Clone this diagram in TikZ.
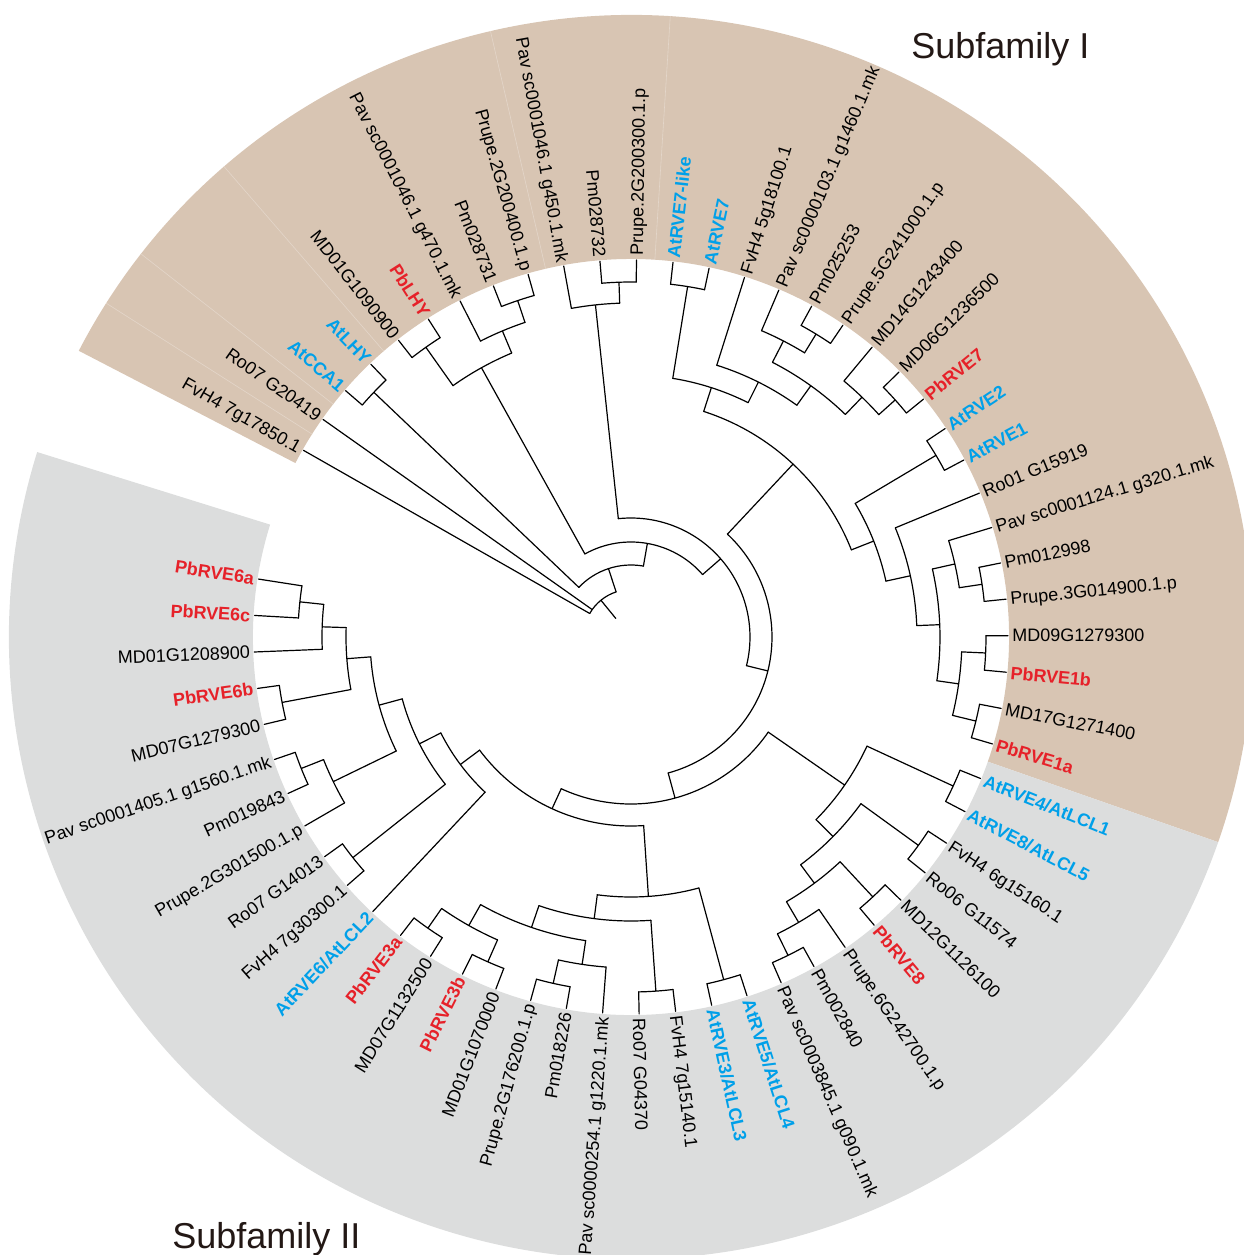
\documentclass[tikz,border=0pt]{standalone}
\usepackage{fontspec}
\setmainfont{Liberation Sans}
\definecolor{famI}{RGB}{216,197,179}
\definecolor{famII}{RGB}{220,221,221}
\definecolor{pbred}{RGB}{230,33,41}
\definecolor{atblue}{RGB}{0,160,233}
\definecolor{famtext}{RGB}{35,24,21}
\tikzset{
  branch/.style={line width=0.6pt, black},
  seam/.style={line width=0.3pt, famI!70!white},
  gene/.style={font=\fontsize{9}{10}\selectfont, inner sep=1pt, text depth=0pt},
  pbgene/.style={gene, font=\fontsize{9}{10}\selectfont\bfseries, text=pbred},
  atgene/.style={gene, font=\fontsize{9}{10}\selectfont\bfseries, text=atblue},
  fam/.style={font=\fontsize{18}{20}\selectfont, text=famtext, inner sep=0pt},
}
% arc of a clade at radius #1 from angle #2 to #3, stem down to radius #4
\newcommand\clade[4]{%
  \pgfmathsetmacro\cmid{(#2+#3)/2}
  \draw[branch] (#2:#1) arc[start angle=#2, end angle=#3, radius=#1] (\cmid:#1) -- (\cmid:#4);}
% tip number #1, parent radius #2, style #3, name #4
\newcommand\taxon[4]{%
  \pgfmathsetmacro\la{0.2+(28-#1)*5.56}
  \draw[branch] (\la:#2) -- (\la:377);
  \pgfmathtruncatemacro\side{(\la>90 || \la<-90) ? 1 : 0}
  \ifnum\side=1
    \node[#3, anchor=east, rotate=\la+180] (t#1) at (\la:379) {#4};
  \else
    \node[#3, anchor=west, rotate=\la] (t#1) at (\la:379) {#4};
  \fi}
\begin{document}
\begin{tikzpicture}[x=0.5pt, y=0.5pt, line join=round, line cap=round]
\useasboundingbox (-631,-618) rectangle (613,637);
\clip (-631,-618) rectangle (613,637);
\def\rin{378} \def\rout{622}
% subfamily bands
\fill[famI] (152.6:\rin) -- (152.6:\rout) arc[start angle=152.6, end angle=-19.26, radius=\rout]
  -- (-19.26:\rin) arc[start angle=-19.26, end angle=152.6, radius=\rin] -- cycle;
\fill[famII] (-19.26:\rin) -- (-19.26:\rout) arc[start angle=-19.26, end angle=-197.3, radius=\rout]
  -- (-197.3:\rin) arc[start angle=-197.3, end angle=-19.26, radius=\rin] -- cycle;
\foreach \a in {147.54,141.98,130.86,103.06,86.38}
  \draw[seam] (\a:\rin) -- (\a:\rout);

% inner clades
\clade{47.5}{150.32}{108.245}{24}
\clade{72}{136.42}{80.07}{47.5}
\clade{355}{139.20}{133.64}{72}
\clade{95}{119.045}{41.09}{72}
\clade{308}{125.30}{112.79}{95}
\clade{355}{128.08}{122.52}{308}
\clade{332}{116.96}{108.62}{308}
\clade{355}{111.40}{105.84}{332}
\clade{119}{96.11}{-13.93}{95}
\clade{334}{100.28}{91.94}{119}
\clade{355}{94.72}{89.16}{334}
\clade{141}{46.85}{-74.71}{119}
% subfamily I, RVE1/RVE7 part
\clade{237}{72.13}{21.57}{141}
\clade{262}{80.82}{63.445}{237}
\clade{355}{83.60}{78.04}{262}
\clade{285}{72.48}{54.41}{262}
\clade{309}{62.75}{46.07}{285}
\clade{333}{66.92}{58.58}{309}
\clade{355}{61.36}{55.80}{333}
\clade{333}{50.24}{41.90}{309}
\clade{355}{44.68}{39.12}{333}
\clade{261}{30.78}{12.36}{237}
\clade{355}{33.56}{28.00}{261}
\clade{286}{22.44}{2.285}{261}
\clade{309}{12.71}{-8.14}{286}
\clade{332}{16.88}{8.54}{309}
\clade{355}{11.32}{5.76}{332}
\clade{331}{-2.58}{-13.70}{309}
\clade{355}{0.20}{-5.36}{331}
\clade{355}{-10.92}{-16.48}{331}
% subfamily II
\clade{167}{-34.725}{-114.69}{141}
\clade{260}{-24.82}{-44.63}{167}
\clade{355}{-22.04}{-27.60}{260}
\clade{284}{-35.94}{-53.315}{260}
\clade{355}{-33.16}{-38.72}{284}
\clade{307}{-47.06}{-59.57}{284}
\clade{355}{-44.28}{-49.84}{307}
\clade{331}{-55.40}{-63.74}{307}
\clade{355}{-60.96}{-66.52}{331}
\clade{189}{-86.155}{-143.23}{167}
\clade{260}{-74.86}{-97.45}{189}
\clade{355}{-72.08}{-77.64}{260}
\clade{284}{-85.98}{-108.915}{260}
\clade{355}{-83.20}{-88.76}{284}
\clade{307}{-98.49}{-119.34}{284}
\clade{331}{-94.32}{-102.66}{307}
\clade{355}{-99.88}{-105.44}{331}
\clade{331}{-113.78}{-124.90}{307}
\clade{355}{-111.00}{-116.56}{331}
\clade{355}{-122.12}{-127.68}{331}
\clade{213}{-133.24}{-153.22}{189}
\clade{237}{-141.58}{-164.86}{213}
\clade{355}{-138.80}{-144.36}{237}
\clade{261}{-154.09}{-175.635}{237}
\clade{331}{-149.92}{-158.26}{261}
\clade{355}{-155.48}{-161.04}{331}
\clade{285}{-169.38}{-181.89}{261}
\clade{355}{-166.60}{-172.16}{285}
\clade{309}{-177.72}{-186.06}{285}
\clade{333}{-183.28}{-188.84}{309}

% tips
\taxon{1}{47.5}{gene}{FvH4 7g17850.1}
\taxon{2}{47.5}{gene}{Ro07 G20419}
\taxon{3}{355}{atgene}{AtCCA1}
\taxon{4}{355}{atgene}{AtLHY}
\taxon{5}{355}{gene}{MD01G1090900}
\taxon{6}{355}{pbgene}{PbLHY}
\taxon{7}{332}{gene}{Pav sc0001046.1 g470.1.mk}
\taxon{8}{355}{gene}{Pm028731}
\taxon{9}{355}{gene}{Prupe.2G200400.1.p}
\taxon{10}{334}{gene}{Pav sc0001046.1 g450.1.mk}
\taxon{11}{355}{gene}{Pm028732}
\taxon{12}{355}{gene}{Prupe.2G200300.1.p}
\taxon{13}{355}{atgene}{AtRVE7-like}
\taxon{14}{355}{atgene}{AtRVE7}
\taxon{15}{285}{gene}{FvH4 5g18100.1}
\taxon{16}{333}{gene}{Pav sc0000103.1 g1460.1.mk}
\taxon{17}{355}{gene}{Pm025253}
\taxon{18}{355}{gene}{Prupe.5G241000.1.p}
\taxon{19}{333}{gene}{MD14G1243400}
\taxon{20}{355}{gene}{MD06G1236500}
\taxon{21}{355}{pbgene}{PbRVE7}
\taxon{22}{355}{atgene}{AtRVE2}
\taxon{23}{355}{atgene}{AtRVE1}
\taxon{24}{286}{gene}{Ro01 G15919}
\taxon{25}{332}{gene}{Pav sc0001124.1 g320.1.mk}
\taxon{26}{355}{gene}{Pm012998}
\taxon{27}{355}{gene}{Prupe.3G014900.1.p}
\taxon{28}{355}{gene}{MD09G1279300}
\taxon{29}{355}{pbgene}{PbRVE1b}
\taxon{30}{355}{gene}{MD17G1271400}
\taxon{31}{355}{pbgene}{PbRVE1a}
\taxon{32}{355}{atgene}{AtRVE4/AtLCL1}
\taxon{33}{355}{atgene}{AtRVE8/AtLCL5}
\taxon{34}{355}{gene}{FvH4 6g15160.1}
\taxon{35}{355}{gene}{Ro06 G11574}
\taxon{36}{355}{gene}{MD12G1126100}
\taxon{37}{355}{pbgene}{PbRVE8}
\taxon{38}{331}{gene}{Prupe.6G242700.1.p}
\taxon{39}{355}{gene}{Pm002840}
\taxon{40}{355}{gene}{Pav sc0003845.1 g090.1.mk}
\taxon{41}{355}{atgene}{AtRVE5/AtLCL4}
\taxon{42}{355}{atgene}{AtRVE3/AtLCL3}
\taxon{43}{355}{gene}{FvH4 7g15140.1}
\taxon{44}{355}{gene}{Ro07 G04370}
\taxon{45}{331}{gene}{Pav sc0000254.1 g1220.1.mk}
\taxon{46}{355}{gene}{Pm018226}
\taxon{47}{355}{gene}{Prupe.2G176200.1.p}
\taxon{48}{355}{gene}{MD01G1070000}
\taxon{49}{355}{pbgene}{PbRVE3b}
\taxon{50}{355}{gene}{MD07G1132500}
\taxon{51}{355}{pbgene}{PbRVE3a}
\taxon{52}{213}{atgene}{AtRVE6/AtLCL2}
\taxon{53}{355}{gene}{FvH4 7g30300.1}
\taxon{54}{355}{gene}{Ro07 G14013}
\taxon{55}{331}{gene}{Prupe.2G301500.1.p}
\taxon{56}{355}{gene}{Pm019843}
\taxon{57}{355}{gene}{Pav sc0001405.1 g1560.1.mk}
\taxon{58}{355}{gene}{MD07G1279300}
\taxon{59}{355}{pbgene}{PbRVE6b}
\taxon{60}{309}{gene}{MD01G1208900}
\taxon{61}{333}{pbgene}{PbRVE6c}
\taxon{62}{333}{pbgene}{PbRVE6a}

\node[fam, anchor=base west] (subI) at (280,579) {Subfamily I};
\node[fam, anchor=base west] (subII) at (-459,-611) {Subfamily II};
\end{tikzpicture}
\end{document}
